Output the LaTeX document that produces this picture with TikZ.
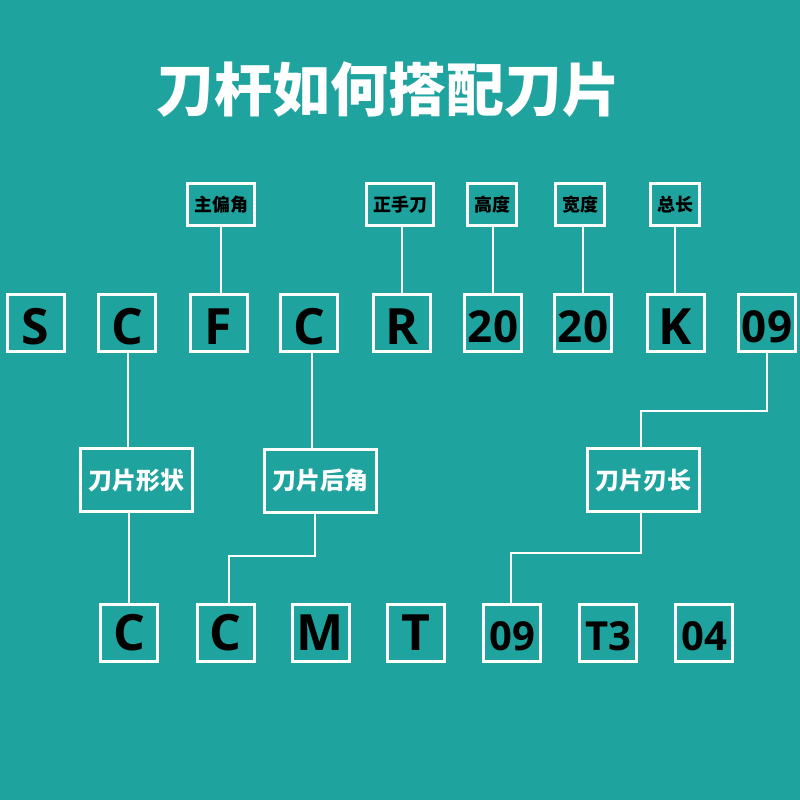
\documentclass[tikz,border=0pt]{standalone}
\usepackage{fontspec}
\setmainfont{Open Sans}
\newfontfamily\cjk{Noto Sans CJK SC}
\usetikzlibrary{positioning,calc}
\definecolor{bgteal}{HTML}{1EA39F}

\begin{document}
\begin{tikzpicture}[x=1pt,y=-1pt,
    code/.style={draw=white, line width=3pt, minimum width=57pt, minimum height=57pt, inner sep=0pt},
    tag/.style={draw=white, line width=3pt, minimum height=42pt, inner xsep=6.5pt, font=\cjk\bfseries\fontsize{18}{18}\selectfont},
    part/.style={draw=white, line width=3pt, minimum height=63pt, inner xsep=8pt, text=white, font=\cjk\bfseries\fontsize{24}{24}\selectfont},
    link/.style={draw=white, line width=2pt}]
    \fill[bgteal] (0,0) rectangle (800,800);
    \node[text=white, font=\cjk\bfseries\fontsize{58}{58}\selectfont] (title) at (388,90) {刀杆如何搭配刀片};
    % tool holder code
    \foreach \x/\txt/\fs/\nm in {35.5/S/50/t1, 127/C/50/t2, 218.5/F/50/t3, 309/C/50/t4, 402/R/50/t5, 493/20/44/t6, 583/20/44/t7, 675.5/K/50/t8, 767/09/44/t9} {
      \node[code] (\nm) at (\x,323) {};
      \node[font=\bfseries\fontsize{\fs}{\fs}\selectfont] (\nm-txt) at (\x,326.5) {\txt};
    }
    % insert code
    \foreach \x/\txt/\fs/\nm/\dy in {129/C/50/b1/0, 225.5/C/50/b2/0, 320.5/M/50/b3/0, 416/T/50/b4/0, 512/09/40/b5/3, 608/T3/40/b6/3, 704/04/40/b7/3} {
      \node[code] (\nm) at (\x,633) {};
      \node[font=\bfseries\fontsize{\fs}{\fs}\selectfont] (\nm-txt) at (\x,633+\dy) {\txt};
    }
    % labels above
    \node[tag] (angle) at (221,204.5) {主偏角};
    \node[tag] (hand) at (400,204.5) {正手刀};
    \node[tag] (height) at (492,204.5) {高度};
    \node[tag] (width) at (580,204.5) {宽度};
    \node[tag] (length) at (675,204.5) {总长};
    \draw[link] (angle.south) -- (angle.south |- t3.north);
    \draw[link] ([xshift=2pt]hand.south) -- ([xshift=2pt]hand.south |- t5.north);
    \draw[link] (t6.north) -- (t6.north |- height.south);
    \draw[link] (t7.north) -- (t7.north |- width.south);
    \draw[link] (length.south) -- (length.south |- t8.north);
    % insert labels
    \node[part] (shape) at (136,480) {刀片形状};
    \node[part] (rear) at (320.5,480.5) {刀片后角};
    \node[part] (blade) at (643,480) {刀片刃长};
    \draw[link] ([xshift=1pt]t2.south) -- ([xshift=1pt]t2.south |- shape.north);
    \draw[link] (b1.north) -- (b1.north |- shape.south);
    \draw[link] ([xshift=3pt]t4.south) -- ([xshift=3pt]t4.south |- rear.north);
    \draw[link] ([xshift=-5.5pt]rear.south) -- ++(0,42) -| ([xshift=3.5pt]b2.north);
    \draw[link] (t9.south) -- ++(0,58) -| ([xshift=-2pt]blade.north);
    \draw[link] ([xshift=-2pt]blade.south) -- ++(0,40) -| ([xshift=-1pt]b5.north);
\end{tikzpicture}
\end{document}
